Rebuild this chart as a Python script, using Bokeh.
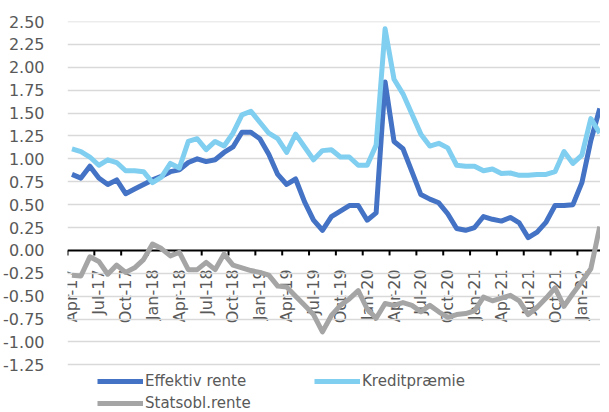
from math import pi
from bokeh.plotting import figure
from bokeh.models import (Range1d, LinearAxis, FixedTicker, Legend, LegendItem,
                          ColumnDataSource, NumeralTickFormatter)
from bokeh.embed import file_html
from bokeh.resources import INLINE

months = ["Apr-17", "May-17", "Jun-17", "Jul-17", "Aug-17", "Sep-17", "Oct-17", "Nov-17", "Dec-17",
          "Jan-18", "Feb-18", "Mar-18", "Apr-18", "May-18", "Jun-18", "Jul-18", "Aug-18", "Sep-18",
          "Oct-18", "Nov-18", "Dec-18", "Jan-19", "Feb-19", "Mar-19", "Apr-19", "May-19", "Jun-19",
          "Jul-19", "Aug-19", "Sep-19", "Oct-19", "Nov-19", "Dec-19", "Jan-20", "Feb-20", "Mar-20",
          "Apr-20", "May-20", "Jun-20", "Jul-20", "Aug-20", "Sep-20", "Oct-20", "Nov-20", "Dec-20",
          "Jan-21", "Feb-21", "Mar-21", "Apr-21", "May-21", "Jun-21", "Jul-21", "Aug-21", "Sep-21",
          "Oct-21", "Nov-21", "Dec-21", "Jan-22", "Feb-22", "Mar-22"]

effektiv_rente = [0.83, 0.79, 0.92, 0.79, 0.72, 0.77, 0.62, 0.67, 0.72, 0.77, 0.81, 0.86,
                  0.88, 0.96, 1.00, 0.97, 0.99, 1.07, 1.13, 1.29, 1.29, 1.22, 1.05, 0.83,
                  0.72, 0.78, 0.53, 0.33, 0.22, 0.37, 0.43, 0.49, 0.49, 0.33, 0.41, 1.84,
                  1.19, 1.11, 0.86, 0.61, 0.56, 0.52, 0.40, 0.24, 0.22, 0.25, 0.37, 0.34,
                  0.32, 0.36, 0.30, 0.14, 0.20, 0.31, 0.49, 0.49, 0.50, 0.74, 1.20, 1.55]

kreditpraemie = [1.11, 1.08, 1.02, 0.93, 0.99, 0.96, 0.87, 0.87, 0.86, 0.74, 0.80, 0.95,
                 0.90, 1.19, 1.22, 1.10, 1.19, 1.14, 1.28, 1.48, 1.52, 1.40, 1.28, 1.22,
                 1.07, 1.27, 1.13, 0.99, 1.09, 1.10, 1.02, 1.02, 0.93, 0.93, 1.15, 2.42,
                 1.87, 1.71, 1.49, 1.27, 1.14, 1.17, 1.12, 0.93, 0.92, 0.92, 0.87, 0.89,
                 0.84, 0.845, 0.82, 0.82, 0.83, 0.83, 0.86, 1.08, 0.95, 1.04, 1.44, 1.28]

statsobl_rente = [-0.27, -0.28, -0.07, -0.12, -0.26, -0.16, -0.24, -0.19, -0.10, 0.07, 0.02, -0.06,
                  -0.02, -0.21, -0.21, -0.13, -0.21, -0.04, -0.16, -0.19, -0.22, -0.24, -0.27, -0.39,
                  -0.40, -0.50, -0.60, -0.70, -0.89, -0.71, -0.60, -0.53, -0.44, -0.64, -0.74, -0.58,
                  -0.60, -0.57, -0.60, -0.67, -0.60, -0.67, -0.73, -0.70, -0.69, -0.66, -0.51, -0.55,
                  -0.52, -0.49, -0.55, -0.70, -0.62, -0.52, -0.41, -0.61, -0.47, -0.34, -0.20, 0.26]

y_ticks = [-1.25, -1.0, -0.75, -0.5, -0.25, 0.0, 0.25, 0.5, 0.75, 1.0, 1.25, 1.5, 1.75, 2.0, 2.25, 2.5]

series_names = ["Effektiv rente", "Kreditpræmie", "Statsobl.rente"]
series_colors = ["#4472C4", "#80CEF0", "#A5A5A5"]

FONT = "DejaVu Sans"
TXT = "#595959"

n = len(months)
xs = list(range(n))
src = ColumnDataSource(dict(x=xs, eff=effektiv_rente, kred=kreditpraemie, stat=statsobl_rente))
boundaries = [i - 0.5 for i in range(0, n, 3)]
label_ticks = list(range(0, n, 3))

# the frame also holds the legend strip below the -1.25 gridline
p = figure(width=600, height=412, output_backend="svg", toolbar_location=None,
           x_range=Range1d(-0.5, 59.08), y_range=Range1d(-1.77, 2.5),
           x_axis_type=None, min_border_left=59, min_border_right=0,
           min_border_top=21, min_border_bottom=0)
p.outline_line_color = None
p.ygrid.visible = False

# y axis
yax = p.yaxis[0]
yax.ticker = FixedTicker(ticks=y_ticks)
yax.formatter = NumeralTickFormatter(format="0.00")
yax.axis_line_color = None
yax.major_tick_line_color = None
yax.minor_tick_line_color = None
yax.major_label_standoff = 17
yax.major_label_text_font = FONT
yax.major_label_text_font_size = "16px"
yax.major_label_text_color = TXT

# horizontal gridlines at the y ticks
p.hspan(y=[t for t in y_ticks if t != 0.0], line_color="#D9D9D9", line_width=1.5)

# category labels on the zero line
label_axis = LinearAxis(ticker=FixedTicker(ticks=label_ticks), fixed_location=0,
                        axis_line_color=None, major_tick_line_color=None,
                        minor_tick_line_color=None, major_label_orientation=pi / 2,
                        major_label_overrides={i: months[i] for i in label_ticks},
                        major_label_standoff=13, major_label_text_font=FONT,
                        major_label_text_font_size="16px", major_label_text_color=TXT,
                        level="underlay")
p.add_layout(label_axis, "below")

# zero line with tick marks between category groups
p.hspan(y=[0.0], line_color="black", line_width=2)
p.ray(x=boundaries, y=[0.0] * len(boundaries), length=5, length_units="screen",
      angle=-pi / 2, line_color="black", line_width=2)

# lines
renderers = []
for key, color in zip(["eff", "kred", "stat"], series_colors):
    r = p.line("x", key, source=src, line_color=color, line_width=5, line_join="round")
    renderers.append(r)

legend = Legend(items=[LegendItem(label=nm, renderers=[r]) for nm, r in zip(series_names, renderers)],
                location=(30, 0), orientation="horizontal", ncols=2,
                glyph_width=46, glyph_height=18, label_height=18, label_standoff=2,
                label_width=165, spacing=4, padding=0, margin=0,
                border_line_color=None, background_fill_alpha=0,
                label_text_font=FONT, label_text_font_size="15px", label_text_color=TXT)
p.add_layout(legend, "center")

open("out.html", "w").write(file_html(p, INLINE))
